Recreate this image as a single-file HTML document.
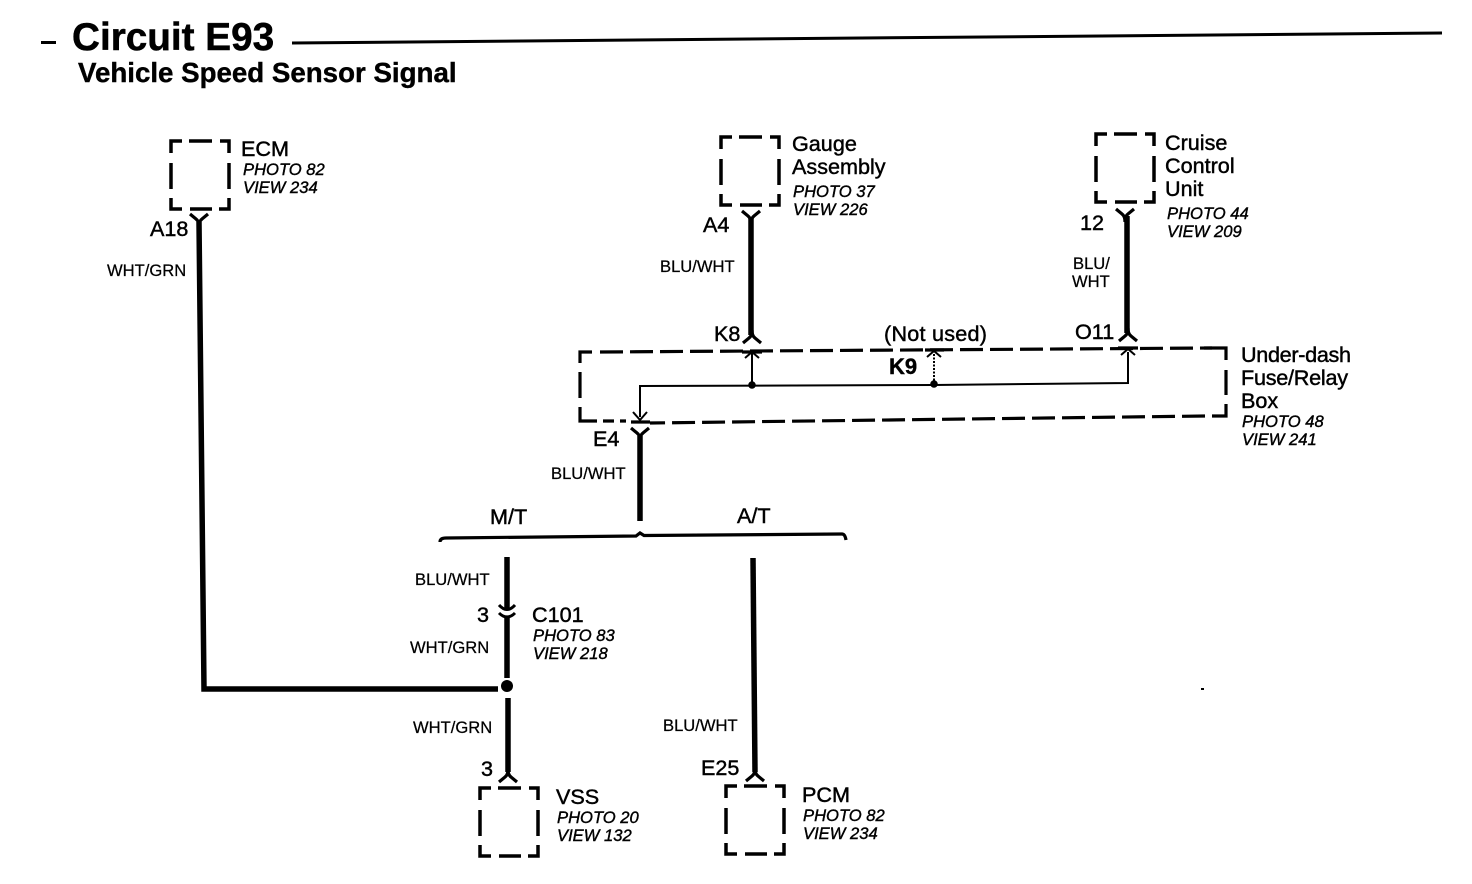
<!DOCTYPE html>
<html>
<head>
<meta charset="utf-8">
<style>
html,body{margin:0;padding:0;background:#fff;width:1472px;height:884px;overflow:hidden}
svg{display:block}
text{font-family:"Liberation Sans",sans-serif;fill:#000}
.n{font-size:21.6px;stroke:#000;stroke-width:.45}
.p{font-size:16.6px;font-style:italic;stroke:#000;stroke-width:.4}
.w{font-size:16.6px;stroke:#000;stroke-width:.25}
.wire{stroke:#000;stroke-width:5.5;fill:none}
.thin{stroke:#000;stroke-width:2;fill:none}
.dash{stroke:#000;stroke-width:3.2;fill:none;stroke-dasharray:23 7}
</style>
</head>
<body>
<svg width="1472" height="884" viewBox="0 0 1472 884" xmlns="http://www.w3.org/2000/svg">
<defs>
<g id="box" fill="none" stroke="#000" stroke-width="3.5">
<path d="M0,12V0H11M18,0H41M49,0H58V12M0,22V48M58,22V48M0,57V68H11M19,68H41M48,68H58V57"/>
</g>
<path id="ytop" d="M-9,-1L-3,4Q0,6 0,12Q0,6 3,4L9,-1" fill="none" stroke="#000" stroke-width="3.2"/>
<path id="ybot" d="M-9,1L-3,-4Q0,-6 0,-12Q0,-6 3,-4L9,1" fill="none" stroke="#000" stroke-width="3.2"/>
</defs>

<!-- Title -->
<rect x="41" y="41" width="15" height="3"/>
<text x="72" y="50" font-size="38.7" font-weight="bold" stroke="#000" stroke-width=".5">Circuit E93</text>
<path d="M292,43L1442,33" stroke="#000" stroke-width="3"/>
<text x="78" y="82" font-size="27.7" font-weight="bold" stroke="#000" stroke-width=".4">Vehicle Speed Sensor Signal</text>

<!-- Boxes -->
<use href="#box" x="171" y="141"/>
<use href="#box" x="721" y="137"/>
<use href="#box" x="1096" y="134"/>
<use href="#box" x="480" y="788"/>
<use href="#box" x="726" y="786"/>

<!-- ECM -->
<text class="n" x="241" y="156">ECM</text>
<text class="p" x="243" y="175">PHOTO 82</text>
<text class="p" x="243" y="193">VIEW 234</text>
<use href="#ytop" x="199" y="215"/>
<text class="n" x="150" y="236">A18</text>
<text class="w" x="107" y="276">WHT/GRN</text>
<path class="wire" d="M199,222L204,689H498" stroke-linejoin="miter"/>

<!-- Gauge -->
<text class="n" x="792" y="151">Gauge</text>
<text class="n" x="792" y="174">Assembly</text>
<text class="p" x="793" y="197">PHOTO 37</text>
<text class="p" x="793" y="215">VIEW 226</text>
<use href="#ytop" x="751" y="212"/>
<text class="n" x="703" y="232">A4</text>
<text class="w" x="660" y="272">BLU/WHT</text>
<path class="wire" d="M751,218V335"/>
<use href="#ybot" x="752" y="342"/>
<text class="n" x="714" y="341">K8</text>

<!-- Cruise -->
<text class="n" x="1165" y="150">Cruise</text>
<text class="n" x="1165" y="173">Control</text>
<text class="n" x="1165" y="196">Unit</text>
<text class="p" x="1167" y="219">PHOTO 44</text>
<text class="p" x="1167" y="237">VIEW 209</text>
<use href="#ytop" x="1125" y="210"/>
<text class="n" x="1080" y="230">12</text>
<text class="w" x="1073" y="269">BLU/</text>
<text class="w" x="1072" y="287">WHT</text>
<path class="wire" d="M1127,216V333"/>
<use href="#ybot" x="1128" y="340"/>
<text class="n" x="1075" y="339">O11</text>

<!-- Fuse box -->
<path d="M580,363V352H592M580,372V398M580,407V421H597M603,421H614M620,421H626" fill="none" stroke="#000" stroke-width="3.2"/>
<path class="dash" d="M600,352L1212,348"/>
<path d="M1204,348H1226V360M1226,370V395M1226,404V416H1212" fill="none" stroke="#000" stroke-width="3.2"/>
<path class="dash" d="M1205,416L650,423"/>
<text class="n" x="884" y="341" textLength="103">(Not used)</text>
<text x="889" y="374" font-size="22" font-weight="bold" stroke="#000" stroke-width=".4">K9</text>
<text class="n" x="1241" y="362" textLength="110">Under-dash</text>
<text class="n" x="1241" y="385" textLength="107">Fuse/Relay</text>
<text class="n" x="1241" y="408">Box</text>
<text class="p" x="1242" y="427">PHOTO 48</text>
<text class="p" x="1242" y="445">VIEW 241</text>

<!-- internal -->
<path class="thin" d="M640,417V386L934,385L1128,383V352"/>
<path class="thin" d="M752,385V353"/>
<path class="thin" d="M934,384V353" stroke-dasharray="2 1.5"/>
<circle cx="752" cy="385" r="3.8"/>
<circle cx="934" cy="384" r="3.8"/>
<path class="thin" d="M745,358L752,352L759,358M927,357L934,351L941,357M1121,355L1128,349L1135,355M633,412L640,420L647,412"/>
<path d="M742,352H762M925,350H944M1118,348H1138M631,422H650" stroke="#000" stroke-width="3.2"/>

<!-- E4 -->
<text class="n" x="593" y="446">E4</text>
<use href="#ytop" x="640" y="429"/>
<path class="wire" d="M640,436V521"/>
<text class="w" x="551" y="479">BLU/WHT</text>

<!-- M/T A/T bracket -->
<text class="n" x="490" y="524">M/T</text>
<text class="n" x="737" y="523">A/T</text>
<path d="M440,542Q440,538 446,538L636,536L640,533L644,535.500L842,534Q845,534 846,540" fill="none" stroke="#000" stroke-width="3.2"/>

<!-- M/T lower -->
<path class="wire" d="M507,557V610"/>
<text class="w" x="415" y="585">BLU/WHT</text>
<text class="n" x="477" y="622">3</text>
<path d="M499,605Q507,614 515,605M499,613Q507,621 515,613" fill="none" stroke="#000" stroke-width="3"/>
<path class="wire" d="M507,618V678" stroke-width="6"/>
<text class="n" x="532" y="622">C101</text>
<text class="p" x="533" y="641">PHOTO 83</text>
<text class="p" x="533" y="659">VIEW 218</text>
<text class="w" x="410" y="653">WHT/GRN</text>
<circle cx="507" cy="686" r="6"/>
<path class="wire" d="M508,698V772"/>
<text class="w" x="413" y="733">WHT/GRN</text>
<text class="n" x="481" y="776">3</text>
<use href="#ybot" x="508" y="781"/>
<text class="n" x="556" y="804">VSS</text>
<text class="p" x="557" y="823">PHOTO 20</text>
<text class="p" x="557" y="841">VIEW 132</text>

<!-- A/T lower -->
<path class="wire" d="M753,558L755,772"/>
<text class="w" x="663" y="731">BLU/WHT</text>
<text class="n" x="701" y="775">E25</text>
<use href="#ybot" x="755" y="780"/>
<text class="n" x="802" y="802">PCM</text>
<text class="p" x="803" y="821">PHOTO 82</text>
<text class="p" x="803" y="839">VIEW 234</text>

<rect x="1201" y="688" width="3" height="2"/>
</svg>
</body>
</html>
